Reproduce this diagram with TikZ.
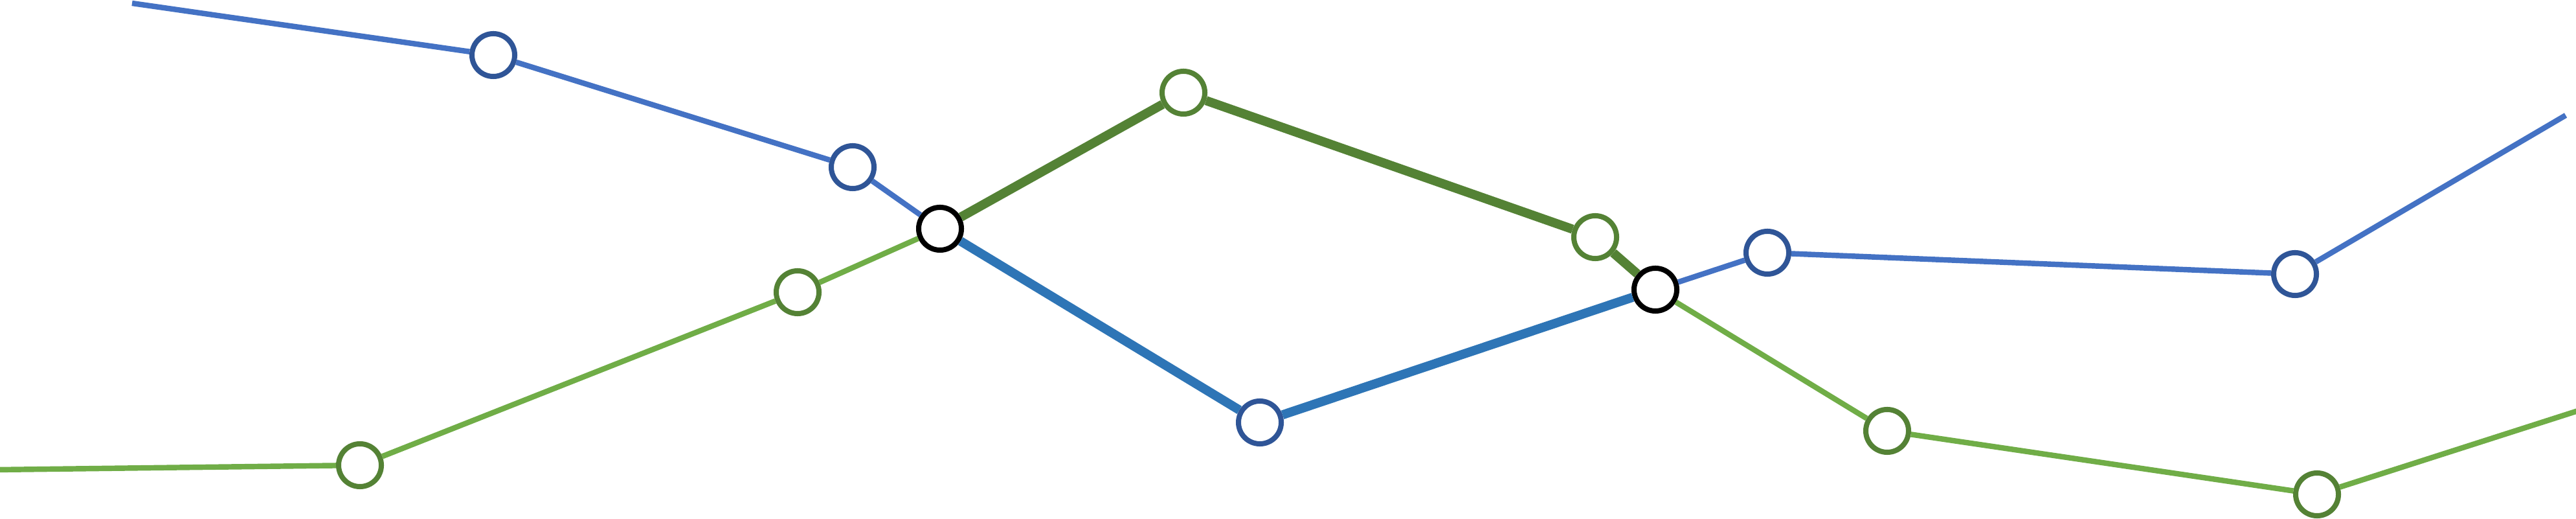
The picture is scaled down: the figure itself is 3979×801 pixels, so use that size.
\documentclass[tikz,border=0pt]{standalone}
\definecolor{bluethin}{HTML}{4472C4}
\definecolor{bluering}{HTML}{2F5597}
\definecolor{bluethick}{HTML}{2E75B6}
\definecolor{greenthin}{HTML}{70AD47}
\definecolor{greenring}{HTML}{548235}
\begin{document}
\begin{tikzpicture}[x=0.01cm,y=-0.01cm,
  stop/.style={circle,draw,fill=white,inner sep=0pt,minimum size=0.66cm,line width=2.28pt},
  bstop/.style={stop,draw=bluering},
  gstop/.style={stop,draw=greenring},
  kstop/.style={stop,draw=black},
  bthin/.style={draw=bluethin,line width=2.4pt},
  gthin/.style={draw=greenthin,line width=2.4pt},
  bthick/.style={draw=bluethick,line width=4pt},
  gthick/.style={draw=greenring,line width=4pt}]
\useasboundingbox (0,0) rectangle (3979,801);
% ends
\coordinate (bs) at (204,5);
\coordinate (be) at (3963,178);
\coordinate (gs) at (-5,725);
\coordinate (ge) at (3985,633);
% nodes
\node[bstop] (B1) at (762,85) {};
\node[bstop] (B2) at (1317,258) {};
\node[kstop] (J1) at (1452,353) {};
\node[bstop] (B3) at (1946,652) {};
\node[kstop] (J2) at (2557,447) {};
\node[bstop] (B4) at (2730,390) {};
\node[bstop] (B5) at (3545,423) {};
\node[gstop] (G1) at (556,718) {};
\node[gstop] (G2) at (1232,451) {};
\node[gstop] (G3) at (1828,143) {};
\node[gstop] (G4) at (2464,366) {};
\node[gstop] (G5) at (2915,665) {};
\node[gstop] (G6) at (3579,763) {};
% blue line
\draw[bthin] (bs) -- (B1);
\draw[bthin] (B1) -- (B2);
\draw[bthin] (B2) -- (J1);
\draw[bthick] (J1) -- (B3);
\draw[bthick] (B3) -- (J2);
\draw[bthin] (J2) -- (B4);
\draw[bthin] (B4) -- (B5);
\draw[bthin] (B5) -- (be);
% green line
\draw[gthin] (gs) -- (G1);
\draw[gthin] (G1) -- (G2);
\draw[gthin] (G2) -- (J1);
\draw[gthick] (J1) -- (G3);
\draw[gthick] (G3) -- (G4);
\draw[gthick] (G4) -- (J2);
\draw[gthin] (J2) -- (G5);
\draw[gthin] (G5) -- (G6);
\draw[gthin] (G6) -- (ge);
\end{tikzpicture}
\end{document}
